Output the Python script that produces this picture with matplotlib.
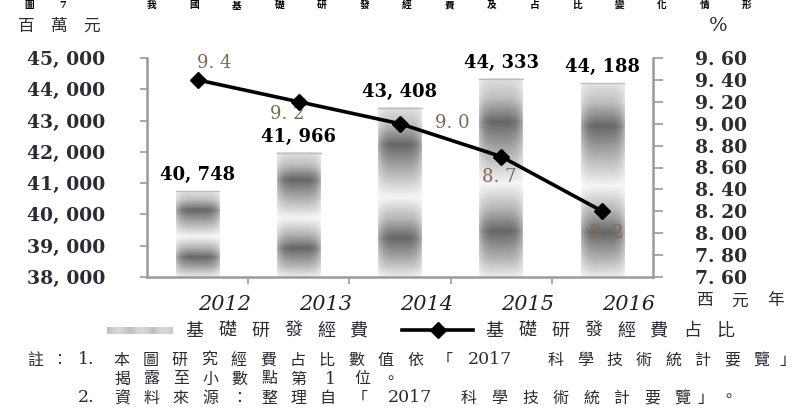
import numpy as np
import matplotlib
matplotlib.use("Agg")
import matplotlib.pyplot as plt
from matplotlib.ticker import FuncFormatter, FixedLocator
from matplotlib.lines import Line2D

# ---------------- data ----------------
years = ["2012", "2013", "2014", "2015", "2016"]
funds = [40748, 41966, 43408, 44333, 44188]          # 百萬元
ratio = [9.4, 9.2, 9.0, 8.7, 8.2]                    # %
left_ticks = [38000, 39000, 40000, 41000, 42000, 43000, 44000, 45000]
right_ticks = [7.6, 7.8, 8.0, 8.2, 8.4, 8.6, 8.8, 9.0, 9.2, 9.4, 9.6]

# ---------------- style ----------------
CJK = ["Noto Sans CJK TC", "DejaVu Sans"]
SERIF = "DejaVu Serif"
TXT = "#2c2a33"
AXC = "#9a9a9a"
W, H = 803, 409

fig = plt.figure(figsize=(W / 100, H / 100), dpi=100)


def fx(px):
    return px / W


def fy(py):
    return 1 - py / H


def chars(x0, y, s, pitch, fs, color=TXT, weight="medium"):
    for k, ch in enumerate(s):
        if ch == " ":
            continue
        fig.text(fx(x0 + k * pitch), fy(y), ch, ha="center", va="center",
                 fontsize=fs, color=color, family=CJK, fontweight=weight)


def ascii_text(x0, y, s, ha="left", fs=12.5):
    fig.text(fx(x0), fy(y), s, ha=ha, va="center", fontsize=fs, family=SERIF, color=TXT)


def bar_texture(nx=40, ny=240):
    t = np.linspace(0, 1, ny)[:, None]
    kt = [0, 0.1, 0.22, 0.38, 0.53, 0.66, 0.77, 0.9, 1.0]
    kv = [0.88, 0.74, 0.40, 0.70, 0.96, 0.70, 0.40, 0.68, 0.92]
    v = np.interp(t, kt, kv)
    xx = np.linspace(-1, 1, nx)[None, :]
    dark = (1 - v) * (1 - 0.45 * np.abs(xx) ** 4)
    return 1 - dark


tex = bar_texture()

ax1 = fig.add_axes([fx(147), fy(277), 506 / W, 219 / H])
ax2 = ax1.twinx()

x = np.arange(len(years))
bw = 0.43
for i, v in enumerate(funds):
    ax1.imshow(tex, cmap="gray", vmin=0, vmax=1,
               extent=[x[i] - bw / 2, x[i] + bw / 2, left_ticks[0], v],
               aspect="auto", interpolation="bilinear", zorder=2)
    ax1.plot([x[i] - bw / 2, x[i] + bw / 2], [v, v], color="#bdbdbd", lw=1, zorder=3)
    ax1.annotate(f"{v:,}".replace(",", ", "), (x[i], v), xytext=(0, 7),
                 textcoords="offset pixels", ha="center", va="bottom",
                 family=SERIF, fontweight="bold", fontsize=13, color="black")

ax1.set_xlim(-0.5, len(years) - 0.5)
ax1.set_ylim(left_ticks[0], left_ticks[-1])
ax1.yaxis.set_major_locator(FixedLocator(left_ticks))
ax1.yaxis.set_major_formatter(FuncFormatter(lambda v, p: f"{int(v):,}".replace(",", ", ")))
ax1.xaxis.set_major_locator(FixedLocator(x[:-1] + 0.5))
ax1.xaxis.set_major_formatter(FuncFormatter(lambda v, p: ""))
ax1.xaxis.set_minor_locator(FixedLocator(x))
ax1.set_xticklabels(years, minor=True)
ax1.tick_params(axis="x", which="minor", length=0, pad=13)
ax1.tick_params(axis="x", which="major", length=5, width=1.2, color=AXC, direction="out")
for lab in ax1.get_xticklabels(minor=True):
    lab.set_ha("left")
    lab.set_family(SERIF)
    lab.set_style("italic")
    lab.set_fontsize(15)
    lab.set_color("#222222")
ax1.tick_params(axis="y", length=5, width=1.2, color=AXC, direction="out", pad=25,
                labelsize=13.5, labelcolor=TXT)
for lab in ax1.get_yticklabels():
    lab.set_family(SERIF)
    lab.set_fontweight("bold")

# ratio line
ax2.plot(x, ratio, color="black", lw=2.6, marker="D", ms=8, zorder=5)
ax2.set_ylim(right_ticks[0], right_ticks[-1])
ax2.yaxis.set_major_locator(FixedLocator(right_ticks))
ax2.yaxis.set_major_formatter(FuncFormatter(lambda v, p: f"{v:.2f}".replace(".", ". ")))
ax2.tick_params(axis="y", length=7, width=1.2, color=AXC, direction="out", pad=23,
                labelsize=13.5, labelcolor=TXT)
for lab in ax2.get_yticklabels():
    lab.set_family(SERIF)
    lab.set_fontweight("bold")

offs = [(17, 17), (-12, -12), (52, 1), (-2, -20), (4, -22)]
for i, r in enumerate(ratio):
    ax2.annotate(f"{r:.1f}".replace(".", ". "), (x[i], r), xytext=offs[i],
                 textcoords="offset pixels", ha="center", va="center",
                 family=SERIF, fontsize=13, color="#7d6a58")

for a in (ax1, ax2):
    a.spines["top"].set_visible(False)
    for s in ("left", "right", "bottom"):
        a.spines[s].set_color(AXC)
        a.spines[s].set_linewidth(1.8)
ax1.spines["right"].set_visible(False)
ax2.spines["left"].set_visible(False)
ax2.spines["bottom"].set_visible(False)
ax1.set_facecolor("none")

# title strip at the very top (the reference shows only its lower edge)
chars(29, 5, "圖", 0, 7, "black", "bold")
fig.text(fx(63), fy(5), "7", ha="center", va="center", fontsize=7,
         family=SERIF, fontweight="bold", color="black")
chars(152, 5, "我國基礎研發經費及占比變化情形", 42.5, 7, "black", "bold")

# unit labels
chars(26, 26, "百萬元", 33, 12)
fig.text(fx(718), fy(26), "%", ha="center", va="center", fontsize=14, family=SERIF, color=TXT)
chars(704, 301, "西元年", 36, 12)

# legend
lax = fig.add_axes([fx(107), fy(334), 66 / W, 7 / H])
lt = np.linspace(0, 1, 60)
leg_tex = (0.74 + 0.1 * np.abs(np.sin(lt * 9)))[None, :].repeat(4, axis=0)
lax.imshow(leg_tex, cmap="gray", vmin=0, vmax=1, aspect="auto", interpolation="bilinear")
lax.axis("off")
chars(194.5, 331, "基礎研發經費", 33, 13)
fig.add_artist(Line2D([fx(402), fx(473)], [fy(330), fy(330)], transform=fig.transFigure,
                      color="black", lw=2.6))
fig.add_artist(Line2D([fx(438)], [fy(330)], transform=fig.transFigure, color="black",
                      marker="D", ms=8, lw=0))
chars(494.5, 331, "基礎研發經費占比", 33, 13)

# notes
NFS = 11.5
Y1, Y2, Y3 = 360, 379, 398
chars(35, Y1, "註", 0, NFS)
chars(59, Y1, "：", 0, NFS)
ascii_text(78, Y1, "1.")
chars(121, Y1, "本圖研究經費占比數值依「", 29.4, NFS)
ascii_text(468, Y1, "2017")
chars(556, Y1, "科學技術統計要覽", 29.4, NFS)
chars(787, Y1, "」", 0, NFS)

chars(122, Y2, "揭露至小數點第", 29.4, NFS)
ascii_text(330, Y2, "1", ha="center")
chars(362, Y2, "位", 0, NFS)
chars(390, Y2, "。", 0, NFS)

ascii_text(78, Y3, "2.")
chars(122, Y3, "資料來源：整理自", 29.4, NFS)
chars(360, Y3, "「", 0, NFS)
ascii_text(388, Y3, "2017")
chars(469, Y3, "科學技術統計要覽", 30.5, NFS)
chars(705, Y3, "」", 0, NFS)
chars(728, Y3, "。", 0, NFS)

fig.savefig("out.png", dpi=100)
